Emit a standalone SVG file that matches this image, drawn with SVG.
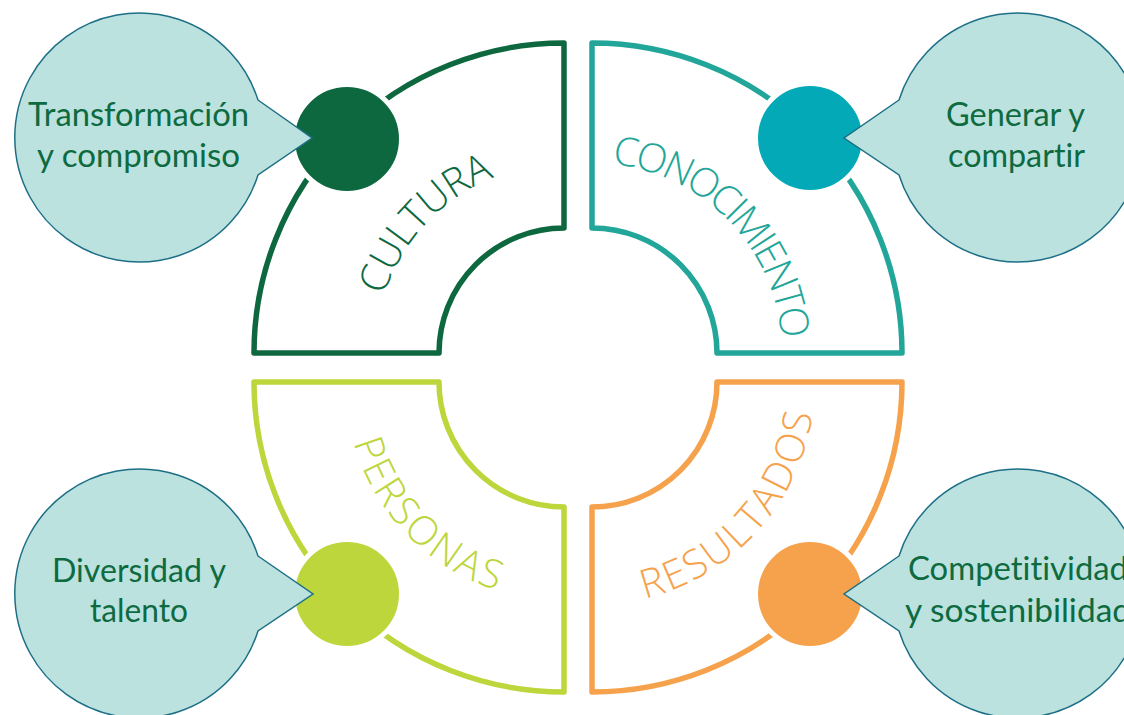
<svg xmlns="http://www.w3.org/2000/svg" width="1124" height="715" viewBox="0 0 1124 715">
<style>
.ring{fill:#ffffff;stroke-width:5.5;stroke-linejoin:round}
.dot{stroke:#ffffff;stroke-width:5}
.bubble{fill:#bbe2df;stroke:#1d6f86;stroke-width:1.5;stroke-linejoin:miter}
.btxt{font-family:Lato,"Open Sans","Liberation Sans",sans-serif;font-size:32px;fill:#0e6a3f;text-anchor:middle;font-variant-ligatures:none}
.qtxt{font-family:"Open Sans","Liberation Sans",sans-serif;font-weight:300;font-size:40px;text-anchor:middle}
</style>
<defs>
<path id="pCult" d="M 375,353 A 189 189 0 0 1 564,164"/>
<path id="pCono" d="M 592,163 A 190 190 0 0 1 782,353"/>
<path id="pPers" d="M 345,382 A 219 219 0 0 0 564,601"/>
<path id="pResu" d="M 592,605 A 223 223 0 0 0 815,382"/>
</defs>
<rect width="1124" height="715" fill="#ffffff"/>
<g id="connectors"></g>
<g id="cultura">
<path class="ring" stroke="#0e683f" d="M 254,353 A 310 310 0 0 1 564,43 L 564,228 A 125 125 0 0 0 439,353 Z"/>
<text class="qtxt" fill="#0e683f"><textPath href="#pCult" startOffset="47.8%" textLength="167" lengthAdjust="spacing">CULTURA</textPath></text>
<circle class="dot" cx="347" cy="139" r="54.5" fill="#0e683f"/>
</g>
<g id="conocimiento">
<path class="ring" stroke="#22a699" d="M 592,43 A 310 310 0 0 1 902,353 L 717,353 A 125 125 0 0 0 592,228 Z"/>
<text class="qtxt" fill="#22a699"><textPath href="#pCono" startOffset="51%" textLength="265" lengthAdjust="spacing">CONOCIMIENTO</textPath></text>
<circle class="dot" cx="810" cy="138" r="54.5" fill="#04a9b8"/>
</g>
<g id="personas">
<path class="ring" stroke="#bdd63b" d="M 254,382 L 439,382 A 125 125 0 0 0 564,507 L 564,692 A 310 310 0 0 1 254,382 Z"/>
<text class="qtxt" fill="#bdd63b"><textPath href="#pPers" startOffset="48.9%" textLength="214" lengthAdjust="spacing">PERSONAS</textPath></text>
<circle class="dot" cx="347" cy="594" r="54.5" fill="#bdd63b"/>
</g>
<g id="resultados">
<path class="ring" stroke="#f6a24c" d="M 592,507 A 125 125 0 0 0 717,382 L 902,382 A 310 310 0 0 1 592,692 Z"/>
<text class="qtxt" fill="#f6a24c"><textPath href="#pResu" startOffset="53%" textLength="265" lengthAdjust="spacing">RESULTADOS</textPath></text>
<circle class="dot" cx="810" cy="594" r="54.5" fill="#f6a24c"/>
</g>
<g id="bubble-transformacion">
<path class="bubble" d="M 258,100 L 312,138 L 258,175 A 124.5 124.5 0 1 1 258,100 Z"/>
<text class="btxt" x="138.5" y="126" textLength="221" lengthAdjust="spacingAndGlyphs">Transformación</text>
<text class="btxt" x="138.5" y="167" textLength="203" lengthAdjust="spacingAndGlyphs">y compromiso</text>
</g>
<g id="bubble-generar">
<path class="bubble" d="M 899,100 L 844,138 L 899,175 A 124.5 124.5 0 1 0 899,100 Z"/>
<text class="btxt" x="1015.5" y="126" textLength="139" lengthAdjust="spacingAndGlyphs">Generar y</text>
<text class="btxt" x="1016.5" y="167" textLength="137" lengthAdjust="spacingAndGlyphs">compartir</text>
</g>
<g id="bubble-diversidad">
<path class="bubble" d="M 258,556 L 313,594 L 258,631 A 124.5 124.5 0 1 1 258,556 Z"/>
<text class="btxt" x="139" y="582" textLength="174" lengthAdjust="spacingAndGlyphs">Diversidad y</text>
<text class="btxt" x="139" y="622" textLength="98" lengthAdjust="spacingAndGlyphs">talento</text>
</g>
<g id="bubble-competitividad">
<path class="bubble" d="M 899,556 L 844,594 L 899,631 A 124.5 124.5 0 1 0 899,556 Z"/>
<text class="btxt" x="908" y="580" style="text-anchor:start" textLength="220" lengthAdjust="spacingAndGlyphs">Competitividad</text>
<text class="btxt" x="905" y="622" style="text-anchor:start" textLength="226" lengthAdjust="spacingAndGlyphs">y sostenibilidad</text>
</g>
</svg>
